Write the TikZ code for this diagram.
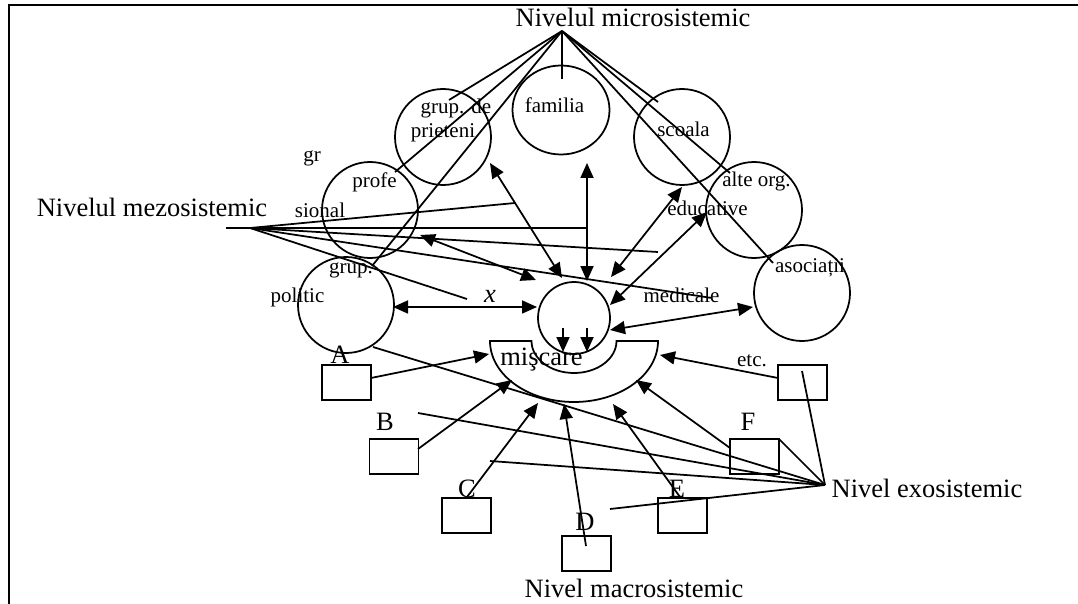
\documentclass[tikz,border=0pt]{standalone}
\usepackage{fontspec}
\setmainfont{Liberation Serif}
\usetikzlibrary{arrows.meta,shapes.geometric}
\begin{document}
\begin{tikzpicture}[x=1pt,y=-1pt,line width=1.75pt,
  >={Triangle[length=15pt,width=13pt]},
  circ/.style={draw,circle,minimum size=96pt,inner sep=0pt},
  box/.style={draw,rectangle,minimum width=49pt,minimum height=35pt,inner sep=0pt},
  big/.style={font=\fontsize{26.5}{30}\selectfont,anchor=base,inner sep=0pt},
  sm/.style={font=\fontsize{21}{24}\selectfont,anchor=base,inner sep=0pt}]
\useasboundingbox (0,0) rectangle (1078,604);
% frame
\draw[line width=2.2pt] (9,604) -- (9,5) -- (1078,5);

% circles
\node[circ] (prieteni) at (443,137) {};
\node[draw,ellipse,minimum width=97pt,minimum height=89pt,inner sep=0pt] (familia) at (561,110) {};
\node[circ] (scoala) at (682,137) {};
\node[circ] (alte) at (754,210) {};
\node[circ] (asoc) at (802,293) {};
\node[circ] (prof) at (370,210) {};
\node[circ] (politic) at (346,305) {};
\node[circ,minimum size=72pt] (eu) at (574,318) {};

% half ring "miscare"
\coordinate (ring) at (574,341);
\draw (490,341) .. controls (490,374.7) and (527.6,402) .. (574,402)
  .. controls (620.4,402) and (658,374.7) .. (658,341) -- (616.5,341)
  .. controls (616.5,358.7) and (597.5,373) .. (574,373)
  .. controls (550.5,373) and (531.5,358.7) .. (531.5,341) -- cycle;

% boxes
\node[box] (bA) at (346.5,382.5) {};
\node[box] (bB) at (394,456.5) {};
\node[box] (bC) at (466.5,515.5) {};
\node[box] (bD) at (586.5,553.5) {};
\node[box] (bE) at (682.5,515.5) {};
\node[box] (bF) at (754.5,456.5) {};
\node[box] (bEtc) at (802.5,382.5) {};

% big labels
\node[big] (tmicro) at (633,27) {Nivelul microsistemic};
\node[big] (tmezo) at (152,216) {Nivelul mezosistemic};
\node[big] (texo) at (927,497) {Nivel exosistemic};
\node[big] (tmacro) at (634,597) {Nivel macrosistemic};
\node[big] (tmisc) at (541.5,365) {mişcare};
\node[big] (lA) at (340,363) {A};
\node[big] (lB) at (385,430) {B};
\node[big] (lC) at (467,497) {C};
\node[big] (lD) at (585,530) {D};
\node[big] (lE) at (677,497) {E};
\node[big] (lF) at (748,430) {F};
\node[big] (lx) at (490,302) {\itshape x};

% small labels
\node[sm] (s1) at (456,114) {grup. de};
\node[sm] (s2) at (443,138) {prieteni};
\node[sm] (s3) at (554.5,113) {familia};
\node[sm] (s4) at (683.5,137) {scoala};
\node[sm] (s5) at (756.5,186) {alte org.};
\node[sm] (s6) at (707.5,215) {educative};
\node[sm] (s7) at (810,272) {asociații};
\node[sm] (s8) at (681.5,302) {medicale};
\node[sm] (s9) at (312,162) {gr};
\node[sm] (s10) at (374.5,187) {profe};
\node[sm] (s11) at (320,217) {sional};
\node[sm] (s12) at (351,273) {grup.};
\node[sm] (s13) at (297.5,302) {politic};
\node[sm] (s14) at (752,366) {etc.};

% apex points
\coordinate (M) at (562,31);
\coordinate (Z) at (250,228);
\coordinate (Z0) at (226,228);
\coordinate (N) at (825,485);

% micro lines
\coordinate (m1) at (449,100);
\coordinate (m2) at (395,172);
\coordinate (m3) at (372,266);
\coordinate (m4) at (562,79);
\coordinate (m5) at (658,102);
\coordinate (m6) at (730,173);
\coordinate (m7) at (773,263);
\foreach \p in {m1,m2,m3,m4,m5,m6,m7} \draw (M) -- (\p);

% mezo lines
\coordinate (z1) at (515,203);
\coordinate (z2) at (587,228);
\coordinate (z3) at (658,252);
\coordinate (z4) at (712,298);
\coordinate (z5) at (467,299);
\draw (Z0) -- (z2);
\foreach \p in {z1,z3,z4,z5} \draw (Z) -- (\p);

% double arrows to the centre circle
\coordinate (a1) at (490,163); \coordinate (e1) at (562,278);
\coordinate (a2) at (587,163); \coordinate (e2) at (587,281);
\coordinate (a3) at (682,187); \coordinate (e3) at (611,277);
\coordinate (a4) at (707,212); \coordinate (e4) at (610,305);
\coordinate (a5) at (753,307); \coordinate (e5) at (610,330);
\coordinate (a6) at (393,307); \coordinate (e6) at (537,307);
\coordinate (a7) at (420,235); \coordinate (e7) at (536,280);
\foreach \i in {1,...,7} \draw[<->] (a\i) -- (e\i);

% centre to ring
\coordinate (c1) at (563,328); \coordinate (d1) at (563,352);
\coordinate (c2) at (587,328); \coordinate (d2) at (587,352);
\draw[->] (c1) -- (d1);
\draw[->] (c2) -- (d2);

% boxes to ring
\coordinate (fA) at (371,378); \coordinate (tA) at (489,354);
\coordinate (fB) at (418,449); \coordinate (tB) at (512,380);
\coordinate (fC) at (467,497); \coordinate (tC) at (538,403);
\coordinate (fD) at (586,546); \coordinate (tD) at (564,404);
\coordinate (fE) at (680,497); \coordinate (tE) at (613,404);
\coordinate (fF) at (730,448); \coordinate (tF) at (636,380);
\coordinate (fG) at (778,378); \coordinate (tG) at (660,355);
\foreach \i in {A,B,C,D,E,F,G} \draw[->] (f\i) -- (t\i);

% exo lines
\coordinate (x1) at (802,371);
\coordinate (x2) at (779,439);
\coordinate (x3) at (373,347);
\coordinate (x4) at (418,413);
\coordinate (x5) at (490,461);
\coordinate (x6) at (610,509);
\foreach \p in {x1,x2,x3,x4,x5,x6} \draw (N) -- (\p);
\end{tikzpicture}
\end{document}
